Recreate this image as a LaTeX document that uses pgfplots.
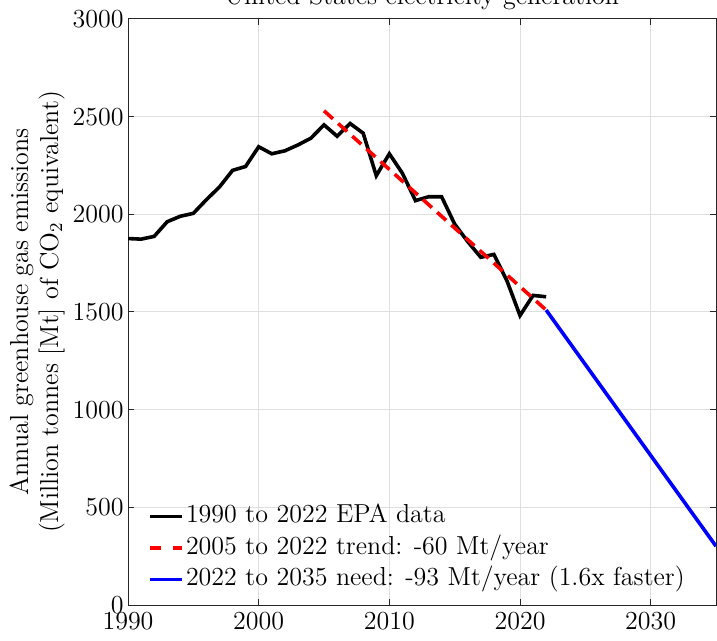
\documentclass[border=0pt]{standalone}
\usepackage{pgfplots}
\pgfplotsset{compat=1.18}
\definecolor{gridc}{RGB}{223,223,223}
\definecolor{axc}{RGB}{38,38,38}
\begin{document}
\begin{tikzpicture}[font=\fontsize{13}{15}\selectfont]
\begin{axis}[
  scale only axis, width=294pt, height=293pt,
  xmin=1990, xmax=2035, ymin=0, ymax=3000,
  xtick={1990,2000,2010,2020,2030},
  ytick={0,500,1000,1500,2000,2500,3000},
  /pgf/number format/1000 sep={},
  /pgf/number format/assume math mode=true,
  grid=major, grid style={gridc, line width=0.5pt},
  axis line style={axc, line width=0.5pt},
  tick align=inside, major tick length=3pt,
  tick style={axc, line width=0.5pt},
  yticklabel style={inner sep=2pt},
  xticklabel style={inner sep=3.5pt},
  legend style={draw=none, fill=none, at={(rel axis cs:0,0)}, anchor=south west,
    xshift=10pt, yshift=5pt, inner sep=0pt, row sep=0.75pt,
    nodes={inner sep=1pt, text height=9.5pt, text depth=3.5pt},
    font=\fontsize{13}{15}\selectfont},
  legend cell align=left,
  legend image code/.code={\draw[#1] (0pt,0pt) -- (16pt,0pt);},
]
\addplot[black, line width=1.8pt] coordinates {
(1990,1876) (1991,1873) (1992,1887) (1993,1962) (1994,1990) (1995,2005)
(1996,2075) (1997,2140) (1998,2225) (1999,2245) (2000,2346) (2001,2310)
(2002,2325) (2003,2355) (2004,2390) (2005,2458) (2006,2400) (2007,2465)
(2008,2415) (2009,2198) (2010,2310) (2011,2210) (2012,2070) (2013,2090)
(2014,2090) (2015,1950) (2016,1860) (2017,1780) (2018,1795) (2019,1660)
(2020,1482) (2021,1585) (2022,1578)};
\addlegendentry{1990 to 2022 EPA data}
\addplot[red, line width=1.8pt, dash pattern=on 6pt off 3.5pt,
  legend image post style={dash pattern=on 5.3pt off 6.2pt}] coordinates {(2005,2530) (2022,1510)};
\addlegendentry{2005 to 2022 trend: -60 Mt/year}
\addplot[blue, line width=1.8pt] coordinates {(2022,1510) (2035,301)};
\addlegendentry{2022 to 2035 need: -93 Mt/year (1.6x faster)}
\end{axis}
\node[anchor=base] at ([yshift=7pt]current axis.north) {United States electricity generation};
\node[rotate=90, align=center, anchor=center] at ([xshift=-45.4pt]current axis.west)
  {Annual greenhouse gas emissions\\(Million tonnes [Mt] of CO\textsubscript{2} equivalent)};
\pgfresetboundingbox
\useasboundingbox ([shift={(-64pt,-17.5pt)}]current axis.south west) rectangle ([shift={(0.5pt,9.5pt)}]current axis.north east);
\end{tikzpicture}
\end{document}
